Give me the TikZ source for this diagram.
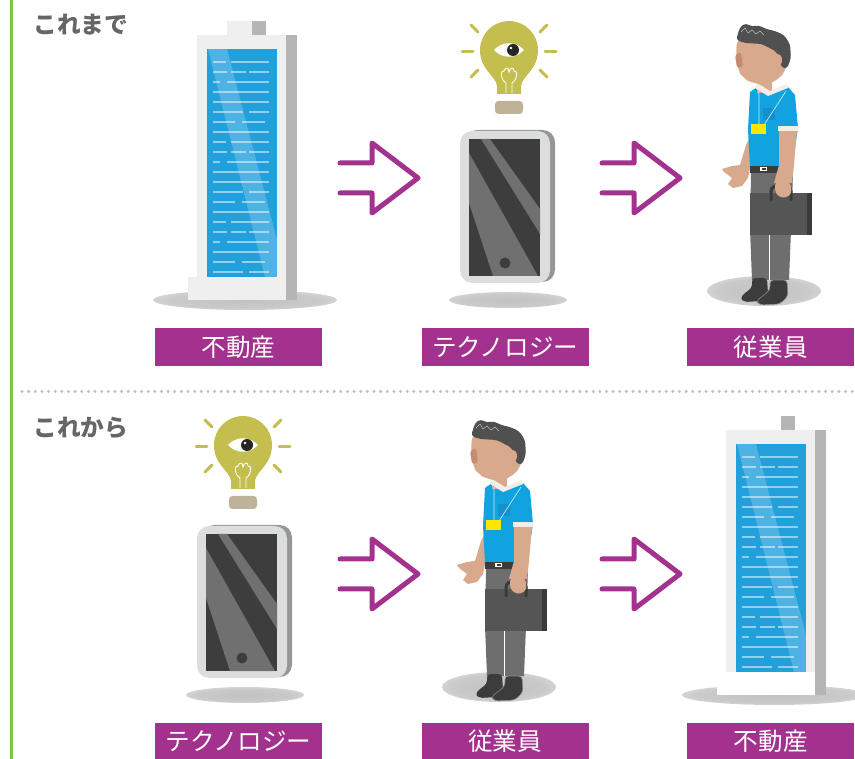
\documentclass[tikz,border=0pt]{standalone}
\usepackage{fontspec}
\newfontfamily\jpfont{Noto Sans CJK JP}
\usetikzlibrary{positioning}

\definecolor{tagpurple}{RGB}{163,49,142}
\definecolor{rulegreen}{RGB}{128,196,64}
\definecolor{captiongray}{RGB}{102,102,102}
\definecolor{towerwall}{RGB}{239,239,239}
\definecolor{towerside}{RGB}{181,181,181}
\definecolor{glass}{RGB}{34,160,220}
\definecolor{bulbcol}{RGB}{196,190,78}
\definecolor{bulbbase}{RGB}{190,178,152}
\definecolor{phoneframe}{RGB}{220,221,221}
\definecolor{phoneside}{RGB}{150,150,150}
\definecolor{screen}{RGB}{61,61,61}
\definecolor{glare}{RGB}{112,112,112}
\definecolor{skin}{RGB}{216,169,140}
\definecolor{skindark}{RGB}{196,140,115}
\definecolor{hair}{RGB}{80,80,80}
\definecolor{shirt}{RGB}{16,163,224}
\definecolor{pocket}{RGB}{20,145,205}
\definecolor{collar}{RGB}{240,238,230}
\definecolor{trouser}{RGB}{110,110,110}
\definecolor{shoe}{RGB}{60,60,60}
\definecolor{case}{RGB}{85,85,85}
\definecolor{caseside}{RGB}{58,58,58}
\definecolor{badge}{RGB}{255,230,0}

% soft shadow on the floor
\pgfdeclareradialshading{groundshadow}{\pgfpoint{0bp}{0bp}}%
  {color(0bp)=(black!24); color(20bp)=(black!21); color(50bp)=(white)}

\tikzset{
  tag/.style={fill=tagpurple, text=white, inner sep=0pt,
    minimum width=3.34cm, minimum height=0.76cm,
    font=\jpfont\fontsize{14}{16}\selectfont},
  caption/.style={text=captiongray, inner sep=0pt,
    font=\jpfont\bfseries\fontsize{13.5}{15}\selectfont},
  arrowline/.style={draw=tagpurple, line width=0.1cm, line cap=round, line join=round},
  winline/.style={white, opacity=.5, line width=0.05cm},
  % office tower, origin at the foot of the wall
  pics/tower/.style={code={
    \shade[shading=groundshadow] (-1,0) ellipse (92 and 10);
    \fill[#1] (-19,-279) rectangle (6,-265);
    \fill[towerside] (6,-279) rectangle (20,-265);
    \fill[towerwall] (-49,-265) rectangle (40,0);
    \fill[towerside] (40,-265) rectangle (51,0);
    \fill[#1] (-58,-23) rectangle (40,0);
    \fill[glass] (-39,-251) rectangle (31,-23);
    \begin{scope}
      \clip (-39,-251) rectangle (31,-23);
      \fill[white, opacity=.2] (-38,-251) -- (-19,-251) -- (31,-60) -- (31,-23) -- (19,-23) -- cycle;
    \end{scope}
    \foreach \k/\segs in {0/{-33/-20,-15/23}, 1/{-33/-19,-15/0,3/23}, 2/{-33/-26,-19/23},
        3/{-33/23}, 4/{-33/23}, 5/{-33/-3,3/23}, 6/{-33/-11,-4/19}, 7/{-33/23},
        8/{-33/-20,-15/23}, 9/{-33/-19,-15/0,3/23}, 10/{-33/-26,-19/23},
        11/{-33/23}, 12/{-33/23}, 13/{-33/-3,3/23}, 14/{-33/-11,-4/19}, 15/{-33/23},
        16/{-33/-20,-15/23}, 17/{-33/-19,-15/0,3/23}, 18/{-33/-26,-19/23},
        19/{-33/23}, 20/{-33/-11,-4/19}, 21/{-33/-3,3/23}}
      \foreach \a/\b in \segs
        \draw[winline] (\a,-238+10*\k) -- (\b,-238+10*\k);
  }},
  % light bulb with the eye, origin at the eye
  pics/bulb/.style={code={
    \fill[bulbcol] (-12,44) -- (-12,36) .. controls (-13,26) and (-29,20) .. (-29,0)
      arc[start angle=180, end angle=360, radius=29]
      .. controls (29,20) and (13,26) .. (12,36) -- (12,44) -- cycle;
    \fill[bulbbase, rounded corners=2pt] (-14,51) rectangle (14,64);
    \foreach \xa/\ya/\xb/\yb in {-47/2/-36/2, 36/2/47/2, -38/-25/-31/-18,
        38/-25/31/-18, -38/27/-31/20, 38/27/31/20}
      \draw[bulbcol, line width=0.06cm, line cap=round] (\xa,\ya) -- (\xb,\yb);
    \fill[white] (-15,0) .. controls (-7,-9) and (7,-9) .. (15,0)
      .. controls (7,9) and (-7,9) .. cycle;
    \fill[black!85] (4,0) circle (6);
    \fill[white] (2,-2) circle (1.3);
    \draw[white, line width=0.5pt] (-3,43) -- (-3,33) .. controls (-9,29) and (-9,20) .. (-5,21)
      .. controls (-4,17) and (0,17) .. (0,22) .. controls (1,17) and (5,17) .. (5,21)
      .. controls (9,20) and (9,29) .. (3,33) -- (3,43);
  }},
  % smartphone, origin at the centre
  pics/phone/.style={code={
    \shade[shading=groundshadow] (3,93) ellipse (59 and 8);
    \fill[phoneside, rounded corners=7pt] (-40,-77) rectangle (50,75);
    \fill[phoneframe, rounded corners=7pt] (-45,-76) rectangle (45,76);
    \fill[screen] (-36,-68) rectangle (35,69);
    \begin{scope}
      \clip (-36,-68) rectangle (35,69);
      \fill[glare] (-24,-68) -- (-15,-68) -- (35,2) -- (35,27) -- cycle;
      \fill[glare] (-36,-54) -- (33,69) -- (-12,69) -- (-36,-4) -- cycle;
    \end{scope}
    \fill[screen] (0,56) circle (5.5);
  }},
  % employee with briefcase, origin on the floor
  pics/worker/.style={code={
    \shade[shading=groundshadow] (4,1) ellipse (57 and 15);
    % legs and shoes
    \fill[trouser] (-9,-117) -- (33,-117) -- (31,-60) -- (29,-10) -- (-8,-10) -- (-10,-60) -- cycle;
    \draw[white, line width=0.4pt] (9,-55) -- (9,-10);
    \fill[shoe, rounded corners=2pt] (-8,-12) -- (7,-12) -- (8,4) -- (2,11) -- (-16,12)
      -- (-20,8) -- (-14,2) -- (-8,-2) -- cycle;
    \fill[shoe, draw=black!45, line width=0.3pt, rounded corners=2pt] (10,-10) -- (27,-10)
      -- (28,6) -- (20,14) -- (0,15) -- (-4,11) -- (4,5) -- (10,0) -- cycle;
    % front arm
    \fill[skin] (-9,-155) -- (-7,-140) -- (-10,-122) -- (-12,-112) -- (-18,-104) -- (-27,-102)
      -- (-32,-106) -- (-28,-112) -- (-36,-118) -- (-38,-121) -- (-28,-124) -- (-20,-125)
      -- (-14,-145) -- cycle;
    % shirt and belt
    \fill[shirt] (-10,-198) -- (-3,-203) -- (10,-196) -- (28,-203) -- (35,-195) -- (38,-162)
      -- (32,-124) -- (-10,-123) -- (-12,-160) -- cycle;
    \fill[pocket] (3,-182) rectangle (15,-170);
    \fill[shoe] (-10,-124) rectangle (33,-117);
    \fill[white] (0,-122.5) rectangle (7,-118.5);
    \fill[shoe] (1.5,-121.5) rectangle (5.5,-119.5);
    % back arm
    \fill[skin] (19,-160) -- (37,-160) -- (34,-125) -- (32,-107) -- (14,-107) -- (19,-125) -- cycle;
    \fill[collar] (18,-164) rectangle (38,-159);
    % briefcase
    \fill[case] (-10,-97) rectangle (47,-55);
    \fill[caseside] (47,-97) rectangle (52,-55);
    \draw[caseside, line width=0.06cm, line cap=round] (11,-90) -- (11,-99)
      .. controls (11,-107) and (31,-107) .. (31,-99) -- (31,-90);
    \fill[skin, rounded corners=2pt] (15,-108) -- (30,-108) -- (32,-97) -- (26,-92)
      -- (19,-93) -- (15,-98) -- cycle;
    % neck, collar, badge
    \fill[skin] (-3,-212) rectangle (12,-197);
    \fill[collar] (-5,-202) -- (-3,-207) -- (10,-199) -- (27,-206) -- (28,-202) -- (8,-194) -- cycle;
    \draw[white!80!shirt, line width=0.35pt] (-1,-199) -- (-1,-165) (26,-199) -- (4,-165);
    \fill[badge] (-9,-166) rectangle (6,-156);
    % head
    \fill[skin, rounded corners=4pt] (-23,-252) -- (-24,-234) -- (-22,-220) -- (-17,-212)
      -- (-8,-207) -- (5,-205) -- (18,-210) -- (26,-220) -- (29,-235) -- (26,-250) -- cycle;
    \fill[skindark, rounded corners=1.5pt] (-25,-235) -- (-19,-238) -- (-17,-223) -- (-23,-222) -- cycle;
    \fill[hair, rounded corners=2pt] (-24,-250) -- (-20,-263) -- (-14,-267) -- (-8,-263)
      -- (-2,-265) -- (6,-261) -- (15,-259) -- (24,-255) -- (30,-246) -- (31,-232)
      -- (27,-221) -- (21,-223) -- (17,-238) -- (2,-246) -- (-15,-247) -- cycle;
    \fill[skin] (18,-230) ellipse (4 and 6);
    \draw[white!60!hair, line width=0.3pt] (-19,-258) -- (-15,-262) -- (-12,-257) -- (-8,-260)
      -- (-4,-256) -- (0,-259) -- (4,-255);
  }},
  pics/hollowarrow/.style={code={
    \draw[arrowline] (0,-15) -- (32,-15) -- (32,-35) -- (78,0) -- (32,35) -- (32,15) -- (0,15);
  }},
}

\begin{document}
\begin{tikzpicture}[x=0.02cm, y=-0.02cm]
\useasboundingbox (0,0) rectangle (855,759);

% green rule on the left and dotted divider
\draw[rulegreen, line width=0.08cm] (11.5,0) -- (11.5,759);
\draw[black!25, line width=0.066cm, line cap=round, dash pattern=on 0pt off 3.78pt]
  (22,391.5) -- (855,391.5);

\node[caption, anchor=west] (before) at (33,25) {これまで};
\node[caption, anchor=west] (after) at (33,428) {これから};

% first row
\coordinate (tower1) at (246,300);
\coordinate (bulb1) at (509,50);
\coordinate (phone1) at (505,207);
\coordinate (worker1) at (760,290);
\pic at (tower1) {tower=towerwall};
\pic at (bulb1) {bulb};
\pic at (phone1) {phone};
\pic at (worker1) {worker};
\pic at (340,178) {hollowarrow};
\pic at (602,178) {hollowarrow};

\node[tag] (estate1) at (238.5,347) {不動産};
\node[tag, right=1.98cm of estate1] (tech1) {テクノロジー};
\node[tag, right=1.96cm of tech1] (staff1) {従業員};

% second row
\coordinate (bulb2) at (243,445);
\coordinate (phone2) at (242,602);
\coordinate (worker2) at (495,686);
\coordinate (tower2) at (775,695);
\pic at (bulb2) {bulb};
\pic at (phone2) {phone};
\pic at (worker2) {worker};
\pic at (tower2) {tower=white};
\pic at (340,574) {hollowarrow};
\pic at (602,574) {hollowarrow};

\node[tag, below=7.12cm of estate1] (tech2) {テクノロジー};
\node[tag, right=1.98cm of tech2] (staff2) {従業員};
\node[tag, right=1.96cm of staff2] (estate2) {不動産};
\end{tikzpicture}
\end{document}
